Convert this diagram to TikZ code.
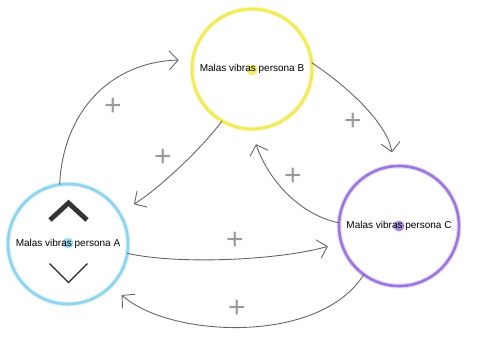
\documentclass[tikz,border=0pt]{standalone}
\usepackage{fontspec}
\setmainfont{Liberation Sans}
\usetikzlibrary{arrows.meta}
\definecolor{acol}{HTML}{8ED3EE}
\definecolor{bcol}{HTML}{F2EA55}
\definecolor{ccol}{HTML}{9B76DE}
\definecolor{linec}{HTML}{666666}
\definecolor{plusc}{HTML}{9A9A9A}
\tikzset{
  person/.style={circle, minimum size=120pt, inner sep=0pt, outer sep=0pt, line width=2.6pt, font=\fontsize{10}{12}\selectfont, text=black},
  centerdot/.style={circle, minimum size=11pt, inner sep=0pt, fill opacity=0.85},
  conn/.style={draw=linec, line width=0.9pt, -{Straight Barb[length=9pt,width=19pt,line width=0.9pt]}},
  plus/.style={text=plusc, font=\fontsize{30}{30}\selectfont, inner sep=0pt},
}
\begin{document}
\begin{tikzpicture}[x=1pt,y=-1pt]
\useasboundingbox (0,0) rectangle (490,340);
% center dots
\node[centerdot, fill=acol] (Ad) at (68,243) {};
\node[centerdot, fill=bcol] (Bd) at (252,70) {};
\node[centerdot, fill=ccol] (Cd) at (399,226) {};
% circles
\node[person, draw=acol, preaction={draw=acol!30, line width=5pt}] (A) at (68,244) {Malas vibras persona A};
\node[person, draw=bcol, preaction={draw=bcol!35, line width=5pt}] (B) at (252,69) {Malas vibras persona B};
\node[person, draw=ccol, preaction={draw=ccol!25, line width=5pt}] (C) at (399,226) {Malas vibras persona C};
% chevrons in A
\draw[line width=4.8pt, color=black!80, miter limit=10] (50,220) -- (68.5,203) -- (87,220);
\draw[line width=1.3pt, color=black!85] (49.5,263.5) -- (68.5,282.5) -- (87.5,263.5);
% connectors
\draw[conn, shorten >=14pt] (A.98) .. controls (63,112) and (110,62) .. (B.171);
\draw[conn, shorten >=17pt] (B.240) .. controls (203,147) and (160,188) .. (A.31);
\draw[conn, shorten >=14pt] (B.6) .. controls (350,88) and (388,125) .. (C.95);
\draw[conn, shorten >=16pt] (C.177) .. controls (300,215) and (268,180) .. (B.269);
\draw[conn, shorten >=14pt] (A.-9) .. controls (180,265) and (280,260) .. (C.196);
\draw[conn, shorten >=14pt] (C.234) .. controls (320,345) and (170,338) .. (A.-44);
% plus labels
\node[plus] (p1) at (113,107) {+};
\node[plus] (p2) at (163,158) {+};
\node[plus] (p3) at (353,122) {+};
\node[plus] (p4) at (293,177) {+};
\node[plus] (p5) at (235,241) {+};
\node[plus] (p6) at (237,309) {+};
\end{tikzpicture}
\end{document}
